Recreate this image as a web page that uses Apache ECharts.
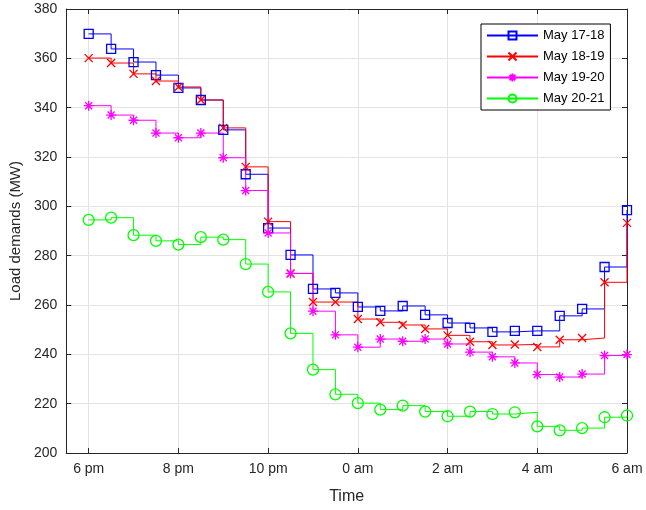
<!DOCTYPE html>
<html>
<head>
  <meta charset="utf-8">
  <title>Load demands</title>
  <script src="https://cdn.jsdelivr.net/npm/echarts@6.0.0/dist/echarts.min.js"></script>
  <style>
    html, body { margin: 0; padding: 0; background: #fff; }
    #graph { width: 646px; height: 510px; }
  </style>
</head>
<body>
  <div id="graph"></div>

  <script>
    // hours since midnight of first day, half-hour steps 6 pm .. 6 am
    var hours = [18, 18.5, 19, 19.5, 20, 20.5, 21, 21.5, 22, 22.5, 23, 23.5, 24,
                 24.5, 25, 25.5, 26, 26.5, 27, 27.5, 28, 28.5, 29, 29.5, 30];
    var tickHours = [18, 20, 22, 24, 26, 28, 30];
    var seriesNames = ['May 17-18', 'May 18-19', 'May 19-20', 'May 20-21'];
    var seriesColors = ['#0000ff', '#ff0000', '#ff00ff', '#00ff00'];

    var may1718 = [369.9, 363.8, 358.5, 353.2, 348.0, 343.1, 331.0, 313.0, 291.2, 280.3, 266.5, 264.9, 259.2,
                   257.6, 259.6, 256.0, 252.7, 250.7, 249.1, 249.5, 249.5, 255.6, 258.4, 275.4, 298.5];
    var may1819 = [360.1, 358.1, 353.7, 350.8, 348.4, 343.1, 331.8, 316.0, 293.8, 272.8, 261.2, 261.2, 254.3,
                   253.0, 251.9, 250.3, 247.7, 245.1, 243.8, 244.0, 243.0, 245.9, 246.6, 269.2, 293.3];
    var may1920 = [340.8, 337.0, 334.9, 329.7, 327.8, 329.7, 319.7, 306.4, 289.2, 272.8, 257.5, 247.9, 242.9,
                   246.2, 245.3, 246.2, 244.2, 240.9, 239.0, 236.5, 231.8, 230.8, 232.0, 239.5, 239.9];
    var may2021 = [294.5, 295.4, 288.3, 286.0, 284.5, 287.5, 286.5, 276.6, 265.3, 248.5, 233.8, 223.8, 220.2,
                   217.6, 219.2, 216.8, 214.9, 216.8, 215.8, 216.5, 210.8, 209.2, 210.1, 214.5, 215.2];

    var myChart = echarts.init(document.getElementById('graph'));

    var axisColor = '#262626';
    var font = 'Arial, "Liberation Sans", Helvetica, sans-serif';

    function pairs(vals) {
      return hours.map(function (h, i) { return [h, vals[i]]; });
    }

    function hourLabel(v) {
      var h = v % 24;
      if (h === 0) return '0 am';
      if (h < 12) return h + ' am';
      return (h - 12) + ' pm';
    }

    var crossPath = 'path://M0,0L10,10M10,0L0,10';
    var starPath = 'path://M5,0L5,10M0,5L10,5M1.5,1.5L8.5,8.5M8.5,1.5L1.5,8.5';

    function makeSeries(name, vals, color, symbol, size) {
      return {
        name: name,
        type: 'line',
        step: 'end',
        data: pairs(vals),
        symbol: symbol,
        symbolSize: size,
        showAllSymbol: true,
        lineStyle: { color: color, width: 1 },
        itemStyle: { color: 'rgba(0,0,0,0)', borderColor: color, borderWidth: 1.3 },
        emphasis: { disabled: true },
        animation: false
      };
    }

    var option = {
      backgroundColor: '#fff',
      grid: { left: 63, right: 19, top: 9, bottom: 56 },
      legend: {
        orient: 'vertical',
        left: 481,
        top: 24,
        padding: [5, 6, 5, 5],
        itemGap: 8,
        itemWidth: 51,
        itemHeight: 10,
        borderColor: '#000',
        borderWidth: 1,
        backgroundColor: '#fff',
        textStyle: { fontFamily: font, fontSize: 13, color: '#000' },
        data: seriesNames
      },
      xAxis: [{
        type: 'value',
        min: 17.5,
        max: 30,
        name: 'Time',
        nameLocation: 'middle',
        nameGap: 36,
        nameTextStyle: { fontFamily: font, fontSize: 16, color: axisColor },
        axisLine: { show: true, lineStyle: { color: axisColor } },
        axisTick: { inside: true, length: 5, customValues: tickHours, lineStyle: { color: axisColor } },
        axisLabel: { customValues: tickHours, formatter: hourLabel, margin: 9,
                     fontFamily: font, fontSize: 14, color: axisColor },
        splitLine: { show: true, lineStyle: { color: '#e3e3e3' } }
      }, {
        type: 'value',
        position: 'top',
        min: 17.5,
        max: 30,
        axisLine: { show: true, onZero: false, lineStyle: { color: axisColor } },
        axisTick: { inside: true, length: 5, customValues: tickHours, lineStyle: { color: axisColor } },
        axisLabel: { show: false },
        splitLine: { show: false }
      }],
      yAxis: [{
        type: 'value',
        min: 200,
        max: 380,
        interval: 20,
        name: 'Load demands (MW)',
        nameLocation: 'middle',
        nameGap: 41,
        nameTextStyle: { fontFamily: font, fontSize: 15, color: axisColor },
        axisLine: { show: true, lineStyle: { color: axisColor } },
        axisTick: { show: true, inside: true, length: 5, lineStyle: { color: axisColor } },
        axisLabel: { margin: 9, fontFamily: font, fontSize: 14, color: axisColor },
        splitLine: { show: true, lineStyle: { color: '#e3e3e3' } }
      }, {
        type: 'value',
        position: 'right',
        min: 200,
        max: 380,
        interval: 20,
        axisLine: { show: true, onZero: false, lineStyle: { color: axisColor } },
        axisTick: { show: true, inside: true, length: 5, lineStyle: { color: axisColor } },
        axisLabel: { show: false },
        splitLine: { show: false }
      }],
      series: [
        makeSeries(seriesNames[0], may1718, seriesColors[0], 'rect', 9),
        makeSeries(seriesNames[1], may1819, seriesColors[1], crossPath, 8),
        makeSeries(seriesNames[2], may1920, seriesColors[2], starPath, 10),
        makeSeries(seriesNames[3], may2021, seriesColors[3], 'circle', 11)
      ]
    };

    myChart.setOption(option);
  </script>
</body>
</html>
